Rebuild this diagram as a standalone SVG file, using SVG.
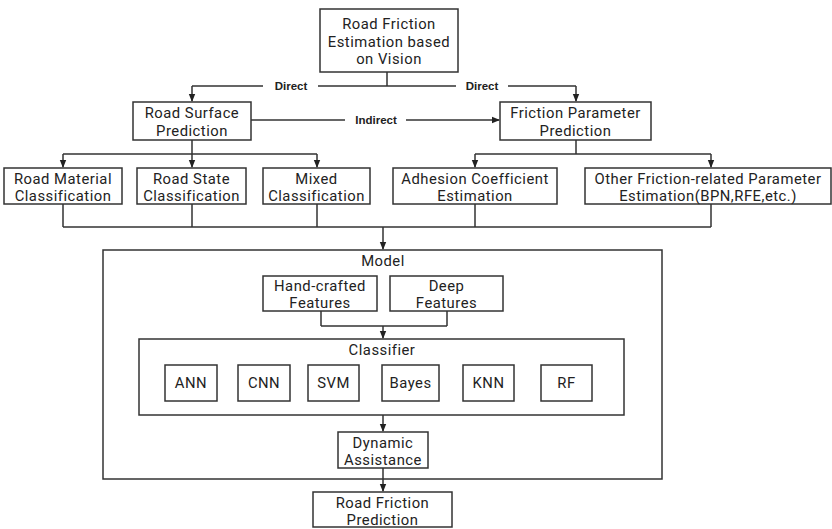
<svg xmlns="http://www.w3.org/2000/svg" width="832" height="529" viewBox="0 0 832 529">
<defs>
<marker id="arr" markerWidth="8" markerHeight="8" refX="7" refY="4" orient="auto" markerUnits="userSpaceOnUse">
<path d="M0,0.8 L8,4 L0,7.2 Z" fill="#222"/>
</marker>
<style>
.box{fill:#fff;stroke:#333;stroke-width:1.5}
.frame{fill:none;stroke:#333;stroke-width:1.5}
.t{font-family:Roboto,"Noto Sans",sans-serif;font-size:14.8px;letter-spacing:0.5px;fill:#222;text-anchor:middle}
.lb{font-family:"Liberation Sans",Arial,sans-serif;font-size:11.5px;font-weight:bold;fill:#222;text-anchor:middle}
.c{fill:none;stroke:#333;stroke-width:1.5}
</style>
</defs>
<rect width="832" height="529" fill="#fff"/>
<g id="model"><rect class="frame" x="103" y="250" width="559" height="229"/>
<text class="t" x="383" y="266">Model</text></g>
<g id="classifier"><rect class="frame" x="139" y="339" width="485" height="76"/>
<text class="t" x="382" y="355">Classifier</text></g>
<g id="top"><rect class="box" x="320" y="9" width="138" height="63"/>
<text class="t" x="389" y="29">Road Friction</text><text class="t" x="389" y="46.5">Estimation based</text><text class="t" x="389" y="64">on Vision</text></g>
<g id="surface"><rect class="box" x="133" y="102" width="118" height="38"/>
<text class="t" x="192" y="118">Road Surface</text><text class="t" x="192" y="135.5">Prediction</text></g>
<g id="friction"><rect class="box" x="500" y="102" width="151" height="38"/>
<text class="t" x="575.5" y="118">Friction Parameter</text><text class="t" x="575.5" y="135.5">Prediction</text></g>
<g id="material"><rect class="box" x="4" y="168" width="118" height="36"/>
<text class="t" x="63" y="183.5">Road Material</text><text class="t" x="63" y="201">Classification</text></g>
<g id="state"><rect class="box" x="137" y="168" width="109" height="36"/>
<text class="t" x="191.5" y="183.5">Road State</text><text class="t" x="191.5" y="201">Classification</text></g>
<g id="mixed"><rect class="box" x="263" y="168" width="107" height="36"/>
<text class="t" x="316.5" y="183.5">Mixed</text><text class="t" x="316.5" y="201">Classification</text></g>
<g id="adhesion"><rect class="box" x="393" y="168" width="164" height="36"/>
<text class="t" x="475" y="183.5">Adhesion Coefficient</text><text class="t" x="475" y="201">Estimation</text></g>
<g id="other"><rect class="box" x="585" y="168" width="246" height="36"/>
<text class="t" x="708" y="183.5">Other Friction-related Parameter</text><text class="t" x="708" y="201">Estimation(BPN,RFE,etc.)</text></g>
<g id="handcrafted"><rect class="box" x="263" y="276" width="114" height="35"/>
<text class="t" x="320" y="291">Hand-crafted</text><text class="t" x="320" y="308">Features</text></g>
<g id="deep"><rect class="box" x="390" y="276" width="113" height="35"/>
<text class="t" x="446.5" y="291">Deep</text><text class="t" x="446.5" y="308">Features</text></g>
<g id="ann"><rect class="box" x="165" y="365" width="52" height="36"/><text class="t" x="191" y="388">ANN</text></g>
<g id="cnn"><rect class="box" x="238" y="365" width="52" height="36"/><text class="t" x="264" y="388">CNN</text></g>
<g id="svm"><rect class="box" x="308" y="365" width="51" height="36"/><text class="t" x="333.5" y="388">SVM</text></g>
<g id="bayes"><rect class="box" x="382" y="365" width="57" height="36"/><text class="t" x="410.5" y="388">Bayes</text></g>
<g id="knn"><rect class="box" x="463" y="365" width="51" height="36"/><text class="t" x="488.5" y="388">KNN</text></g>
<g id="rf"><rect class="box" x="541" y="365" width="51" height="36"/><text class="t" x="566.5" y="388">RF</text></g>
<g id="dynamic"><rect class="box" x="338" y="432" width="90" height="36"/>
<text class="t" x="383" y="447.5">Dynamic</text><text class="t" x="383" y="465">Assistance</text></g>
<g id="result"><rect class="box" x="313" y="492" width="139" height="35"/>
<text class="t" x="382.5" y="507.5">Road Friction</text><text class="t" x="382.5" y="525">Prediction</text></g>
<g id="connectors">
<path class="c" d="M387,72 V86 M192,86 H576"/>
<path class="c" d="M192,86 V101" marker-end="url(#arr)"/>
<path class="c" d="M576,86 V101" marker-end="url(#arr)"/>
<path class="c" d="M251,120 H499" marker-end="url(#arr)"/>
<path class="c" d="M192,140 V154 M63,154 H317"/>
<path class="c" d="M63,154 V167" marker-end="url(#arr)"/>
<path class="c" d="M192,154 V167" marker-end="url(#arr)"/>
<path class="c" d="M317,154 V167" marker-end="url(#arr)"/>
<path class="c" d="M576,140 V154 M475,154 H711"/>
<path class="c" d="M475,154 V167" marker-end="url(#arr)"/>
<path class="c" d="M711,154 V167" marker-end="url(#arr)"/>
<path class="c" d="M63,204 V227 M192,204 V227 M317,204 V227 M475,204 V227 M711,204 V227 M63,227 H711"/>
<path class="c" d="M383,227 V249" marker-end="url(#arr)"/>
<path class="c" d="M321,311 V326 M447,311 V326 M321,326 H447"/>
<path class="c" d="M383,326 V338" marker-end="url(#arr)"/>
<path class="c" d="M383,415 V431" marker-end="url(#arr)"/>
<path class="c" d="M383,468 V491" marker-end="url(#arr)"/>
<rect x="263" y="80" width="55" height="12" fill="#fff"/>
<rect x="456" y="80" width="52" height="12" fill="#fff"/>
<rect x="345" y="114" width="61" height="12" fill="#fff"/>
<text class="lb" x="291" y="90">Direct</text>
<text class="lb" x="482" y="90">Direct</text>
<text class="lb" x="376" y="124">Indirect</text>
</g>
</svg>
